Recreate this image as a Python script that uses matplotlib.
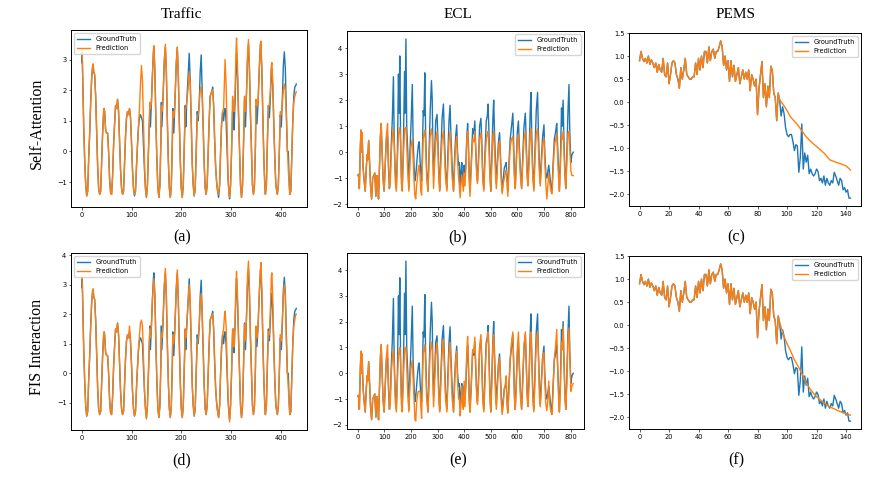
import matplotlib
matplotlib.use('Agg')
import matplotlib.pyplot as plt

########  data  ########

## Traffic: key points (x, ground truth); predictions differ only where listed
tr_x = [0, 1, 2, 4, 6, 8, 10, 12, 14, 16, 18, 20, 22, 23, 24, 26, 28, 30, 32, 34,
        36, 38, 40, 42, 44, 45, 46, 48, 50, 52, 54, 56, 58, 60, 62, 64, 66, 68, 70, 72,
        74, 76, 78, 80, 82, 84, 86, 88, 90, 92, 94, 96, 98, 100, 102, 104, 106,
        108, 110, 112, 114, 116, 118, 120, 122, 124, 126, 128,
        130, 132, 134, 136, 137, 138, 140, 142, 144, 145, 147, 149, 151, 153,
        155, 157, 159, 160, 161, 163, 166, 168, 170, 172, 174, 176,
        178, 180, 182, 183, 185, 187, 190, 192, 194, 196, 198, 200,
        202, 204, 206, 208, 209, 211, 214, 216, 218, 220, 222, 224, 226,
        228, 230, 232, 234, 236, 238, 240, 242, 244, 246, 248,
        250, 252, 254, 256, 258, 260, 262, 263, 265, 267, 269, 271, 273,
        275, 277, 279, 281, 283, 285, 287, 288, 290, 292, 294, 296,
        297, 299, 301, 303, 305, 306, 308, 310, 311, 313, 315, 317, 319,
        321, 323, 325, 327, 329, 331, 333, 335, 337, 339, 341, 343,
        345, 347, 349, 350, 352, 354, 357, 359, 360, 362, 364, 366, 368,
        369, 371, 373, 375, 377, 379, 381, 382, 384, 386, 388, 390,
        393, 395, 397, 399, 401, 403, 405, 407, 409, 411, 413, 415, 417,
        418, 420, 422, 424, 426, 428, 430, 431]
tr_gt = [2.9, 3.2, 2.4, 0.8, -0.3, -1.1, -1.45, -1.3, -0.2, 0.6,
         1.6, 2.4, 2.8, 2.85, 2.6, 2.5, 1.8, 0.6, -0.5, -1.2,
         -1.4, -1.3, -0.3, 0.6, 1.3, 1.4, 1.3, 0.7, 0.6, 0.6,
         0.0, -0.9, -1.35, -1.4, -0.8, 0.2, 0.9, 1.5, 1.4, 1.7,
         1.3, 0.3, -0.6, -1.2, -1.4, -1.3, -0.4, 0.5, 1.1, 1.3,
         1.2, 1.4, 1.1, 0.3, -0.6, -1.2, -1.45,
         -1.3, -0.5, 0.2, 0.8, 1.1, 1.2, 1.1, 1.0, 0.2, -0.6, -1.2,
         -1.5, -1.1, 0.0, 1.2, 1.6, 0.8, 1.6, 2.5, 3.2, 3.4, 2.6, 1.0, -0.3, -1.2,
         -1.5, -1.1, 0.3, 1.6, 0.8, 1.6, 3.0, 3.4, 2.6, 1.0, -0.3, -1.2,
         -1.5, -1.1, 0.3, 1.4, 0.6, 1.5, 2.9, 3.4, 2.5, 1.0, -0.3, -1.2,
         -1.5, -1.1, 0.2, 1.5, 0.8, 1.6, 2.6, 3.2, 2.3, 0.9, -0.4, -1.1, -1.45,
         -1.2, 0.0, 1.3, 1.0, 1.6, 2.6, 3.15, 2.0, 0.8, -0.4, -1.2,
         -1.4, -1.1, 0.0, 1.0, 1.8, 1.9, 2.0, 2.1, 1.5, 0.4, -0.5, -1.0, -1.3,
         -1.5, -1.1, 0.0, 0.9, 1.3, 1.0, 1.4, 1.4, 1.0, 0.0, -0.9, -1.4,
         -1.55, -1.1, 0.0, 1.3, 1.5, 0.7, 1.6, 2.8, 3.2, 2.4, 1.2, 0.0, -1.1,
         -1.5, -1.1, 0.2, 1.7, 0.8, 1.9, 3.0, 3.5, 2.6, 1.2, 0.0, -1.1,
         -1.4, -1.1, 0.2, 1.5, 0.9, 1.5, 2.8, 3.5, 3.5, 2.5, 1.0, -0.3, -1.2,
         -1.4, -1.1, 0.3, 1.5, 1.1, 1.8, 2.7, 2.7, 2.0, 0.8, -0.3, -1.1,
         -1.4, -1.1, 0.0, 1.2, 0.8, 1.7, 2.8, 3.25, 2.7, 1.3, 0.0, 0.0, -1.1,
         -1.4, -1.3, -0.2, 1.0, 1.8, 2.1, 2.15, 2.2]
# Self-Attention prediction (where it leaves the ground truth)
tr_pa_fix = {0: 3.3, 1: 3.1, 106: -1.4, 116: 1.4, 118: 2.2, 120: 2.8, 122: 2.3, 124: 1.0, 126: -0.3,
             137: 1.6, 138: 1.4, 144: 3.3, 145: 3.45, 160: 1.5, 161: 1.3, 168: 3.5, 183: 1.3, 185: 1.1,
             208: 1.4, 209: 1.4, 214: 2.1, 216: 2.6, 218: 2.2, 220: 1.0,
             232: 1.1, 234: 1.2, 236: 1.5, 238: 2.0, 240: 2.1, 242: 1.8,
             263: 2.0, 275: -1.4, 285: 1.4, 287: 2.5, 288: 3.0, 290: 2.2, 292: 0.8,
             297: -1.5, 303: 1.8, 306: 1.3, 308: 2.0, 310: 3.3, 311: 3.7, 313: 2.8,
             327: 1.8, 329: 1.3, 333: 3.1, 335: 3.65, 337: 2.7, 350: 1.7, 352: 1.5, 360: 3.6, 362: 2.6,
             377: 1.5, 379: 2.0, 381: 2.8, 382: 2.9, 384: 2.2,
             399: 1.3, 401: 1.2, 403: 1.6, 405: 2.0, 407: 2.2, 409: 2.0, 411: 1.2, 413: 0.2, 415: -0.6,
             426: 1.6, 428: 1.8, 430: 1.9, 431: 1.95}
# FIS Interaction prediction
tr_pd_fix = {0: 3.25, 1: 3.1, 96: 1.6, 116: 1.3, 118: 1.7, 120: 1.8, 122: 1.6, 124: 0.6, 126: -0.5, 130: -1.55,
             137: 1.5, 138: 1.2, 144: 3.0, 145: 3.2, 160: 1.35, 161: 1.2, 168: 3.55, 183: 1.3, 185: 1.0, 192: 3.5,
             209: 1.2, 214: 2.5, 216: 3.0, 218: 2.4, 220: 1.0, 232: 1.0, 234: 1.2, 238: 2.4, 240: 2.7,
             263: 2.0, 285: 1.5, 287: 2.0, 288: 2.1, 290: 1.6, 292: 0.4, 297: -1.65,
             303: 1.5, 306: 0.9, 308: 1.8, 310: 3.1, 311: 3.45, 313: 2.6,
             327: 1.65, 329: 1.1, 333: 3.3, 335: 3.8, 337: 2.8, 350: 1.6, 352: 1.2, 360: 3.75, 362: 2.8,
             375: 1.4, 377: 1.3, 379: 2.2, 381: 3.3, 382: 3.4, 384: 2.4,
             399: 1.3, 401: 1.1, 403: 1.8, 405: 2.6, 407: 3.0, 409: 2.6, 411: 1.2, 413: 0.1, 415: -0.5,
             426: 1.6, 428: 1.8, 430: 2.0, 431: 2.0}

## ECL: key points
ecl_x = [0, 3, 6, 9, 12, 14, 16, 20, 24, 28, 32, 35, 37, 41, 44, 48, 52, 56, 60, 64,
         68, 72, 75, 78, 82, 85, 88, 91, 95, 99, 102, 105, 108, 112, 115, 119,
         122, 126, 130, 134, 137, 141, 145, 149, 153, 155, 158, 161, 164, 167,
         171, 176, 178, 181, 184, 188, 192, 196, 200, 205, 208, 212, 215, 218,
         221, 225, 228, 231, 234, 237, 240, 243, 246, 249, 252, 255, 259, 264,
         268, 272, 277, 280, 282, 285, 289, 293, 298, 301, 305, 308,
         312, 317, 322, 325, 330, 335, 339, 343, 347, 350, 355, 360,
         364, 368, 372, 375, 379, 382, 385, 388, 391, 394, 397, 400, 403,
         406, 410, 413, 416, 419, 422, 427, 432, 436, 440, 443, 447, 450,
         454, 458, 463, 466, 470, 474, 478, 483, 487, 490, 493, 497, 500,
         504, 508, 511, 514, 518, 521, 525, 529, 533, 536, 540, 543,
         547, 551, 555, 558, 561, 564, 568, 573, 578, 583, 586, 589, 592,
         596, 600, 604, 607, 612, 616, 620, 625, 630, 633, 637, 640,
         644, 648, 651, 654, 658, 662, 666, 671, 676, 679, 683, 686,
         690, 695, 700, 703, 707, 711, 715, 718, 722, 726, 730,
         734, 739, 744, 748, 751, 755, 758, 762, 766, 768, 772, 775, 779, 782,
         786, 790, 794, 797, 801, 805, 810]
ecl_gt = [-0.9, -0.85, -1.4, 0.0, 0.85, 0.0, 0.75, -0.6, -1.1, -1.5, -0.6, -0.1, -0.3, 0.45, -0.3, -1.3, -1.8, -1.0, -0.9, -0.8,
          -1.7, -0.9, -1.2, -1.8, -0.5, 0.6, 1.1, 0.2, -1.0, -1.5, -0.8, 0.0, 0.6, 0.6, -0.5, -1.4,
          -1.0, 0.3, 1.3, 2.9, 0.5, -0.8, -1.4, 0.0, 3.0, 1.5, 3.7, 0.5, -0.9, -1.4,
          0.0, 3.1, 1.5, 4.35, 1.0, 0.0, -1.4, 0.0, 1.0, 2.6, 0.5, -0.6, -1.1, -0.9,
          -0.5, 0.0, 0.3, 0.4, -0.3, -0.8, -1.1, 0.0, 1.6, 1.4, 3.05, 0.8, -0.7, -1.5,
          0.0, 1.5, 2.75, 2.0, 0.3, -0.9, 0.0, 1.2, 1.45, 0.6, -0.9, -1.4,
          -0.2, 1.3, 1.85, 0.8, -0.7, -1.4, 0.0, 1.2, 1.8, 0.7, -0.6, -1.5,
          -0.2, 0.6, 1.05, 0.0, -0.5, -0.4, -1.3, -0.8, -0.4, -1.0, -1.3, -0.5, -1.0,
          -0.5, 0.6, 1.1, 0.3, -0.9, -1.5, -0.3, 0.9, 0.7, 1.2, 0.3, -0.7, -1.1,
          -0.2, 1.0, 1.3, 0.5, -0.9, -1.4, -0.1, 1.2, 1.4, 1.85, 0.8, -0.8, -1.5,
          -0.1, 1.3, 2.0, 0.8, -0.5, -1.2, -0.3, 0.4, 0.75, 0.0, -1.0, -1.5,
          -1.0, -0.6, -0.5, -0.4, -1.0, -1.5, -0.5, 0.5, 1.0, 1.5, 0.3, -0.8, -1.4,
          -0.3, 0.8, 1.2, 0.3, -0.8, -1.4, -0.2, 1.0, 1.5, 0.5, -0.8, -1.2,
          -0.1, 1.5, 2.3, 0.7, -0.7, -1.4, 0.0, 1.6, 2.3, 0.8, -0.5, -1.2,
          -0.3, 0.6, 1.05, 0.0, -0.8, -1.0, -0.7, -0.5, -0.9, -1.3, -1.5,
          -0.5, 0.5, 0.8, 1.1, 0.3, -0.8, -1.5, -0.2, 1.7, 1.0, 2.0, 0.5, -0.8, -1.4,
          -0.1, 1.5, 2.6, 0.8, -0.4, -0.1, 0.0]
# Self-Attention prediction
ecl_pb_fix = {108: 0.7, 112: 1.1, 115: -0.2, 122: -1.2, 126: 0.0, 130: 0.6, 134: 0.9, 137: 0.3, 141: -1.1, 145: -1.5,
              149: -0.3, 153: 0.7, 155: 0.8, 158: 0.95, 161: 0.4, 164: -1.2, 167: -1.5,
              171: -0.3, 176: 0.9, 178: 0.9, 181: 0.95, 184: 0.3, 188: -0.8, 192: -1.5,
              196: -0.5, 200: 0.2, 205: 0.5, 208: -0.2, 212: -1.2, 215: -1.7, 218: -1.8,
              221: -1.3, 225: -0.9, 228: -0.6, 231: -0.5, 234: -0.9, 237: -1.5, 240: -1.65,
              243: -0.4, 246: 0.5, 249: 0.7, 252: 0.85, 255: 0.3, 259: -1.0,
              268: -0.3, 272: 0.6, 277: 0.9, 280: 0.6, 282: -0.2, 285: -1.4,
              289: -0.4, 293: 0.4, 298: 0.8, 301: 0.2, 305: -1.1, 308: -1.5,
              312: -0.5, 317: 0.5, 322: 0.8, 325: 0.2, 330: -1.0, 335: -1.5,
              339: -0.4, 343: 0.5, 347: 0.8, 350: 0.2, 355: -1.0,
              364: -0.5, 368: 0.3, 372: 0.6, 375: -0.3, 379: -1.0, 382: -1.3, 385: -1.75,
              388: -1.2, 391: -0.9, 394: -1.2, 397: -1.5, 400: -0.8, 403: -1.3,
              406: -0.7, 410: 0.5, 413: 0.8, 416: 0.2, 419: -1.1, 422: -1.7,
              427: -0.5, 432: 0.5, 436: 0.4, 440: 0.8, 443: 0.2, 447: -0.9, 450: -1.2,
              454: -0.4, 458: 0.5, 463: 0.75, 466: 0.2, 470: -1.1, 474: -1.5,
              478: -0.4, 483: 0.5, 487: 0.7, 490: 0.8, 493: 0.2, 497: -1.0,
              504: -0.4, 508: 0.6, 511: 0.8, 514: 0.2, 518: -0.9, 521: -1.4,
              525: -0.6, 529: 0.2, 533: 0.45, 536: -0.2, 540: -1.2, 543: -1.6,
              547: -1.2, 551: -1.0, 555: -0.8, 558: -0.7, 561: -1.2, 564: -1.7,
              568: -0.8, 573: 0.2, 578: 0.5, 583: 0.6, 586: 0.0, 589: -1.0,
              596: -0.5, 600: 0.5, 604: 0.7, 607: 0.0, 612: -1.0,
              620: -0.5, 625: 0.5, 630: 0.8, 633: 0.1, 637: -1.0, 640: -1.3,
              644: -0.4, 648: 0.7, 651: 0.9, 654: 0.2, 658: -1.0, 662: -1.5,
              666: -0.3, 671: 0.7, 676: 0.9, 679: 0.2, 683: -0.9, 686: -1.3,
              690: -0.6, 695: 0.3, 700: 0.55, 703: -0.3, 707: -1.2, 711: -1.8,
              715: -1.2, 718: -0.8, 722: -1.2, 726: -1.5, 730: -1.6,
              734: -0.8, 739: 0.2, 744: 0.5, 748: 0.7, 751: 0.0, 755: -1.0,
              762: -0.5, 766: 0.6, 768: 0.5, 772: 0.8, 775: 0.1, 779: -1.0,
              786: -0.4, 790: 0.7, 794: 0.8, 797: 0.2, 801: -0.7, 805: -0.9, 810: -0.9}
# FIS Interaction prediction (differences from the Self-Attention one)
ecl_pe_fix = {158: 1.0, 178: 1.0, 181: 1.0, 215: -1.8, 218: -1.85,
              221: -1.2, 225: -0.8, 228: -0.7, 231: -0.7, 234: -0.7, 237: -1.3, 240: -1.75,
              243: -0.3, 246: 0.8, 249: 0.9, 252: 1.1, 255: 0.4,
              272: 0.8, 277: 1.2, 280: 0.9, 285: -1.3, 293: 0.7, 298: 1.2,
              317: 0.8, 322: 1.3, 325: 0.4, 343: 0.8, 347: 1.2, 350: 0.4,
              368: 0.5, 372: 0.85, 382: -1.0, 385: -1.65, 391: -0.5, 397: -1.4, 400: -0.3,
              406: -0.4, 410: 0.9, 413: 1.43, 416: 0.5, 422: -1.5,
              432: 0.9, 436: 0.8, 440: 1.4, 443: 0.5, 458: 1.0, 463: 1.5, 466: 0.6,
              483: 1.1, 487: 1.3, 490: 1.6, 493: 0.7, 508: 1.1, 511: 1.5, 514: 0.6,
              529: 0.3, 533: 0.6, 551: -0.6, 555: -0.4, 558: -0.1, 564: -1.55,
              573: 0.6, 578: 1.2, 583: 1.6, 586: 0.5, 600: 1.0, 604: 1.6, 607: 0.5,
              625: 1.1, 630: 1.6, 633: 0.6, 648: 1.2, 651: 1.6, 654: 0.7,
              671: 1.2, 676: 1.6, 679: 0.8, 695: 0.6, 700: 0.8, 711: -1.45, 715: -1.0, 718: -0.3,
              739: 0.6, 744: 1.1, 748: 1.7, 751: 0.6, 766: 1.2, 768: 0.9, 772: 1.8, 775: 0.6,
              790: 1.2, 794: 1.75, 797: 0.8, 805: -0.5, 810: -0.4}

## PEMS: every step of the ground truth
pems_gt = [0.9, 1.1, 0.95, 0.88, 0.95, 0.85, 1.0, 0.82, 0.92, 0.85,
           0.75, 0.85, 0.65, 0.82, 0.7, 0.65, 0.95, 0.6, 0.55, 0.85,
           0.4, 0.6, 0.85, 0.9, 0.85, 0.6, 0.5, 0.3, 0.75, 0.5,
           0.7, 0.95, 0.6, 0.55, 0.5, 0.5, 0.55, 0.55, 0.85, 0.6,
           0.95, 0.7, 1.0, 0.75, 1.1, 1.1, 0.85, 1.2, 0.9, 1.1,
           1.15, 0.95, 1.1, 1.1, 1.2, 1.33, 1.2, 0.8, 1.0, 0.7,
           0.9, 0.45, 0.9, 0.55, 0.8, 0.45, 0.6, 0.75, 0.4, 0.55,
           0.7, 0.5, 0.65, 0.5, 0.7, 0.25, 0.6, 0.5, 0.35, 0.5,
           -0.27, 0.3, 0.6, 0.88, 0.1, 0.4, -0.1, 0.35, 0.1, 0.78,
           0.7, 0.2, 0.1, -0.4, 0.2, 0.05,
           -0.3, -0.1, -0.25, -0.55, -0.7, -0.75, -0.7, -0.7, -0.85, -1.05,
           -0.92, -0.95, -1.52, -1.2, -0.47, -1.45, -1.1, -1.3, -1.15, -1.55,
           -1.45, -1.55, -1.6, -1.55, -1.45, -1.5, -1.7, -1.65, -1.75, -1.6,
           -1.8, -1.65, -1.75, -1.8, -1.7, -1.75, -1.52, -1.6, -1.7, -1.8,
           -1.65, -1.7, -1.9, -1.85, -1.95, -1.9, -2.08, -2.08]
pems_split = 95  # predictions start here
pems_c_x = [95, 98, 100, 102, 104, 107, 110, 113, 116, 120, 125, 129, 133, 136, 140, 143]
pems_c_y = [0.05, -0.08, -0.18, -0.3, -0.38, -0.48, -0.62, -0.75, -0.85, -0.96, -1.1, -1.25, -1.3, -1.33, -1.38, -1.47]
pems_f_x = [95, 98, 100, 102, 105, 108, 110, 113, 116, 120, 125, 129, 135, 140, 143]
pems_f_y = [0.05, -0.25, -0.4, -0.53, -0.75, -0.92, -1.05, -1.25, -1.4, -1.55, -1.68, -1.77, -1.86, -1.92, -1.95]

col_titles = ['Traffic', 'ECL', 'PEMS']
row_titles = ['Self-Attention', 'FIS Interaction']
sub_labels = ['(a)', '(b)', '(c)', '(d)', '(e)', '(f)']


def with_fix(xs, base, fix):
  return [fix.get(x, b) for x, b in zip(xs, base)]


tr_pa = with_fix(tr_x, tr_gt, tr_pa_fix)
tr_pd = with_fix(tr_x, tr_gt, tr_pd_fix)
ecl_pb = with_fix(ecl_x, ecl_gt, ecl_pb_fix)
ecl_pe = with_fix(ecl_x, ecl_pb, ecl_pe_fix)
pems_x = list(range(len(pems_gt)))
pc_x = pems_x[:pems_split] + pems_c_x
pc_y = pems_gt[:pems_split] + pems_c_y
pf_x = pems_x[:pems_split] + pems_f_x
pf_y = pems_gt[:pems_split] + pems_f_y

W, H = 887, 478
serif = 'Liberation Serif'


def rect(l, r, t, b):
  return [l / W, 1 - b / H, (r - l) / W, (b - t) / H]


def panel(fig, box, x, gt, px, py, loc):
  ax = fig.add_axes(box)
  ax.plot(x, gt, color='#1f77b4', lw=1.0, label='GroundTruth')
  ax.plot(px, py, color='#ff7f0e', lw=1.0, label='Prediction')
  ax.tick_params(labelsize=4.8, length=1.8, width=0.45, pad=1.5)
  for s in ax.spines.values():
    s.set_linewidth(0.7)
  ax.legend(loc=loc, fontsize=4.8)
  return ax


fig = plt.figure(figsize=(W / 100, H / 100), dpi=100)

panel(fig, rect(71, 307, 30, 207), tr_x, tr_gt, tr_x, tr_pa, 'upper left')
panel(fig, rect(347, 584, 31, 207), ecl_x, ecl_gt, ecl_x, ecl_pb, 'upper right')
panel(fig, rect(629, 861, 33, 206), pems_x, pems_gt, pc_x, pc_y, 'upper right')
panel(fig, rect(71, 307, 253, 430), tr_x, tr_gt, tr_x, tr_pd, 'upper left')
panel(fig, rect(347, 584, 253, 429), ecl_x, ecl_gt, ecl_x, ecl_pe, 'upper right')
panel(fig, rect(629, 861, 256, 429), pems_x, pems_gt, pf_x, pf_y, 'upper right')

col_x = [182, 458, 736]
for cx, t in zip(col_x, col_titles):
  fig.text(cx / W, 1 - 15 / H, t, ha='center', va='center', family=serif, fontsize=11)
for i, lab in enumerate(sub_labels):
  ly = 237 if i < 3 else 460
  fig.text(col_x[i % 3] / W, 1 - ly / H, lab, ha='center', va='center', family=serif, fontsize=11.5)
for ry, t in zip([123, 347], row_titles):
  fig.text(37 / W, 1 - ry / H, t, ha='center', va='center', rotation=90, family=serif, fontsize=11.5)

fig.savefig('out.png', dpi=100)
